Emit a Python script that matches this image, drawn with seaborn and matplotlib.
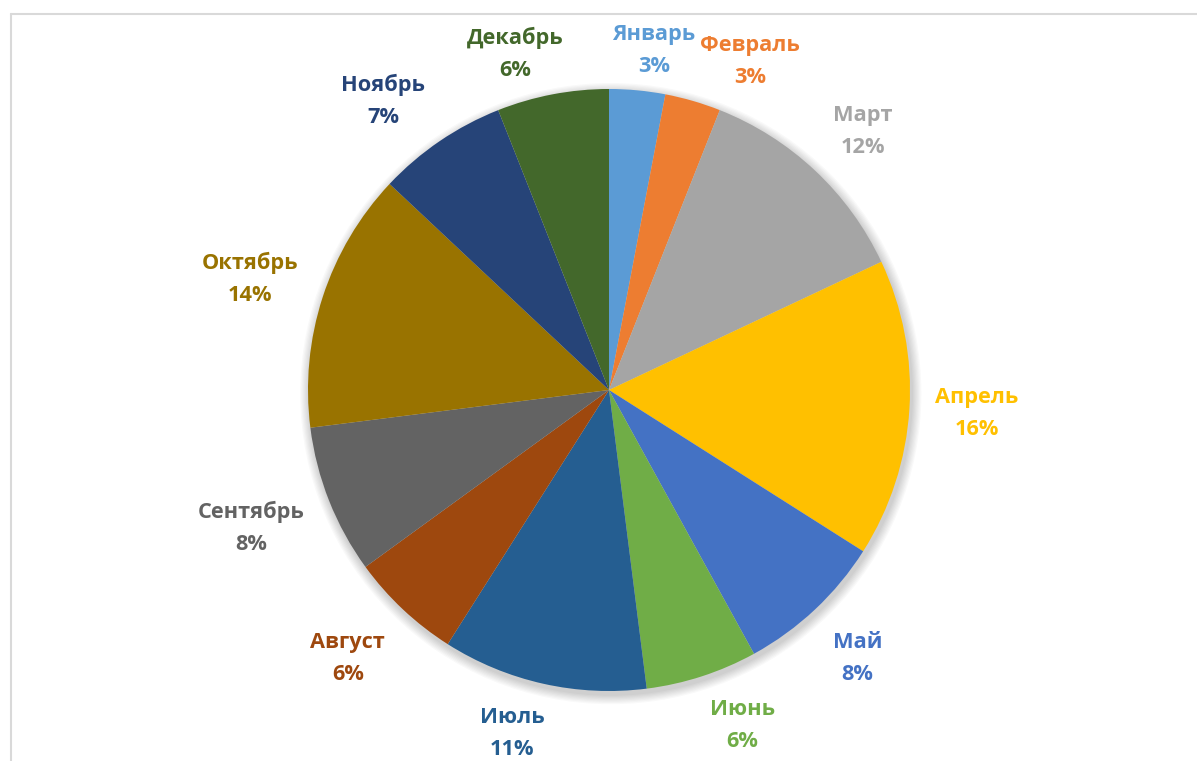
import matplotlib
matplotlib.use("Agg")
import matplotlib.pyplot as plt
from matplotlib.patches import Circle
from matplotlib.lines import Line2D
import numpy as np
import seaborn as sns

# Monthly shares, %
months = ["Январь", "Февраль", "Март", "Апрель", "Май", "Июнь",
          "Июль", "Август", "Сентябрь", "Октябрь", "Ноябрь", "Декабрь"]
shares = [3, 3, 12, 16, 8, 6, 11, 6, 8, 14, 7, 6]
colors = ["#5B9BD5", "#ED7D31", "#A5A5A5", "#FFC000", "#4472C4", "#70AD47",
          "#255E91", "#9E480E", "#636363", "#997300", "#264478", "#43682B"]

sns.set_theme(style="white")
plt.rcParams["font.family"] = ["Open Sans", "DejaVu Sans"]

W, H, DPI = 1197, 761, 100
fig = plt.figure(figsize=(W / DPI, H / DPI), dpi=DPI, facecolor="white")
ax = fig.add_axes([0, 0, 1, 1])

R_PX = 301.0           # pie radius in pixels
CX, CY = 609.0, 390.0  # pie centre (pixels from top-left)

# soft outer shadow behind the pie
for i in range(8):
    ax.add_patch(Circle((0.006, -0.012), 1.0 + 0.004 * (i + 1),
                        facecolor="black", edgecolor="none",
                        alpha=0.025, zorder=0))

wedges, _ = ax.pie(shares, colors=colors, startangle=90, counterclock=False,
                   radius=1.0, wedgeprops=dict(linewidth=0, zorder=2))

ax.set_xlim(-CX / R_PX, (W - CX) / R_PX)
ax.set_ylim(-(H - CY) / R_PX, CY / R_PX)
ax.set_aspect("equal", adjustable="datalim")
ax.axis("off")

fig.canvas.draw()
renderer = fig.canvas.get_renderer()

# outside-end label placement: offset from the rim, then shift the box
GAP_X = 26 / R_PX
GAP_TOP = 13 / R_PX
GAP_BOTTOM = 23 / R_PX

for w, name, val, col in zip(wedges, months, shares, colors):
    theta = np.deg2rad((w.theta1 + w.theta2) / 2)
    ux, uy = np.cos(theta), np.sin(theta)
    t = ax.text(0, 0, f"{name}\n{val}%", ha="center", va="center",
                fontsize=15.7, fontweight="bold", color=col,
                linespacing=1.68, zorder=3)
    bb = t.get_window_extent(renderer)
    hw = bb.width / 2 / R_PX
    hh = bb.height / 2 / R_PX
    gy = GAP_TOP if uy > 0 else GAP_BOTTOM
    x = ux * (1 + GAP_X) + hw * np.clip(3.6 * ux, -1, 1)
    y = uy + (gy + hh) * np.clip(1.45 * uy, -1, 1)
    t.set_position((x, y))

# chart-area border (top and left edges)
fig.add_artist(Line2D([10.5 / W, 1.0], [1 - 13.5 / H, 1 - 13.5 / H],
                      transform=fig.transFigure, color="#d9d9d9", lw=1.5))
fig.add_artist(Line2D([10.5 / W, 10.5 / W], [0.0, 1 - 13.5 / H],
                      transform=fig.transFigure, color="#d9d9d9", lw=1.5))

fig.savefig("out.png", dpi=DPI, facecolor="white")
